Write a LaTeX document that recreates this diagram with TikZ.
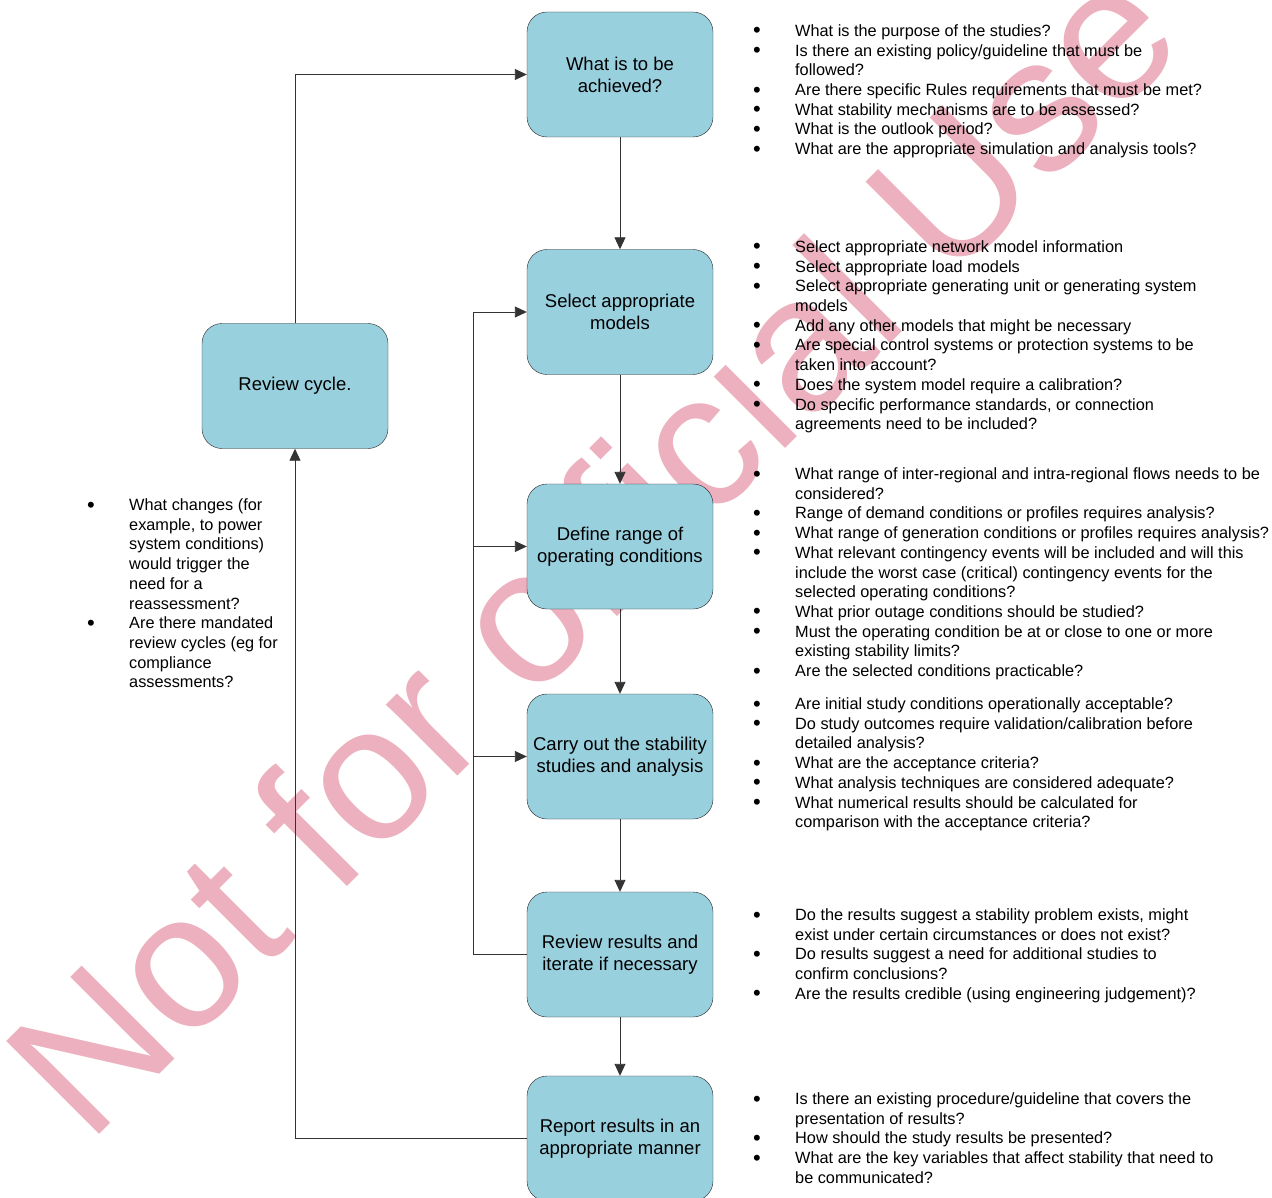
\documentclass[tikz,border=0pt]{standalone}
\usepackage{fontspec}
\setmainfont{Liberation Sans}
\usetikzlibrary{arrows.meta}
\definecolor{stagefill}{RGB}{153,208,222}
\definecolor{stamppink}{RGB}{236,176,190}
\newcommand{\bl}{{\fontsize{22}{19.7}\selectfont\raisebox{-1.5pt}{\textbullet}}}
\begin{document}
\begin{tikzpicture}%
	[x=1pt, y=-1pt,
	stage/.style={draw=black!85, fill=stagefill, thin, rounded corners=20pt, minimum width=186pt, minimum height=125pt, inner sep=0pt, align=center, font=\fontsize{18.5}{22}\selectfont},
	flow/.style={draw=black!80, line width=0.9pt, -{Triangle[length=12pt,width=11pt]}},
	link/.style={draw=black!80, line width=0.9pt},
	notes/.style={anchor=base west, inner sep=0pt, font=\fontsize{16.3}{19.7}\selectfont},
	stamp/.style={text=stamppink, inner sep=0pt, rotate=45, anchor=base west, font=\fontsize{191}{191}\selectfont}]
%
\useasboundingbox (0,0) rectangle (1272,1198);
%%
%% Watermark in the back
%%
\node[stamp] (mark) at (88,1146) {Not for official Use};
%%
%% Drawing the stages
%%
\node[stage] (goal) at (620,74.5) {What is to be\\achieved?};
\node[stage] (models) at (620,312) {Select appropriate\\models};
\node[stage] (define) at (620,546.5) {Define range of\\operating conditions};
\node[stage] (carry) at (620,756.5) {Carry out the stability\\studies and analysis};
\node[stage] (iterate) at (620,954.5) {Review results and\\iterate if necessary};
\node[stage] (report) at (620,1138.5) {Report results in an\\appropriate manner};
\node[stage] (review) at (295,386) {Review cycle.};
%%
%% Drawing the connectors
%%
\draw[flow] (goal) -- (models);
\draw[flow] (models) -- (define);
\draw[flow] (define) -- (carry);
\draw[flow] (carry) -- (iterate);
\draw[flow] (iterate) -- (report);
\draw[flow] (report.west) -| (review.south);
\draw[flow] (review.north) |- (goal.west);
\coordinate (bus) at (473,312);
\draw[flow] (iterate.west) -| (bus) -- (models.west);
\draw[flow] (bus |- define.west) -- (define.west);
\draw[flow] (bus |- carry.west) -- (carry.west);
%%
%% Drawing the questions
%%
\node[notes] (qgoal) at (753,36.5) {\begin{tabular}[t]{@{}p{42pt}@{}l@{}}
\bl & What is the purpose of the studies?\\
\bl & Is there an existing policy/guideline that must be\\
 & followed?\\
\bl & Are there specific Rules requirements that must be met?\\
\bl & What stability mechanisms are to be assessed?\\
\bl & What is the outlook period?\\
\bl & What are the appropriate simulation and analysis tools?
\end{tabular}};
\node[notes] (qmodels) at (753,252.5) {\begin{tabular}[t]{@{}p{42pt}@{}l@{}}
\bl & Select appropriate network model information\\
\bl & Select appropriate load models\\
\bl & Select appropriate generating unit or generating system\\
 & models\\
\bl & Add any other models that might be necessary\\
\bl & Are special control systems or protection systems to be\\
 & taken into account?\\
\bl & Does the system model require a calibration?\\
\bl & Do specific performance standards, or connection\\
 & agreements need to be included?
\end{tabular}};
\node[notes] (qdefine) at (753,479.5) {\begin{tabular}[t]{@{}p{42pt}@{}l@{}}
\bl & What range of inter-regional and intra-regional flows needs to be\\
 & considered?\\
\bl & Range of demand conditions or profiles requires analysis?\\
\bl & What range of generation conditions or profiles requires analysis?\\
\bl & What relevant contingency events will be included and will this\\
 & include the worst case (critical) contingency events for the\\
 & selected operating conditions?\\
\bl & What prior outage conditions should be studied?\\
\bl & Must the operating condition be at or close to one or more\\
 & existing stability limits?\\
\bl & Are the selected conditions practicable?
\end{tabular}};
\node[notes] (qcarry) at (753,709.5) {\begin{tabular}[t]{@{}p{42pt}@{}l@{}}
\bl & Are initial study conditions operationally acceptable?\\
\bl & Do study outcomes require validation/calibration before\\
 & detailed analysis?\\
\bl & What are the acceptance criteria?\\
\bl & What analysis techniques are considered adequate?\\
\bl & What numerical results should be calculated for\\
 & comparison with the acceptance criteria?
\end{tabular}};
\node[notes] (qiterate) at (753,920.5) {\begin{tabular}[t]{@{}p{42pt}@{}l@{}}
\bl & Do the results suggest a stability problem exists, might\\
 & exist under certain circumstances or does not exist?\\
\bl & Do results suggest a need for additional studies to\\
 & confirm conclusions?\\
\bl & Are the results credible (using engineering judgement)?
\end{tabular}};
\node[notes] (qreport) at (753,1104.5) {\begin{tabular}[t]{@{}p{42pt}@{}l@{}}
\bl & Is there an existing procedure/guideline that covers the\\
 & presentation of results?\\
\bl & How should the study results be presented?\\
\bl & What are the key variables that affect stability that need to\\
 & be communicated?
\end{tabular}};
\node[notes] (qreview) at (87,510.5) {\begin{tabular}[t]{@{}p{42pt}@{}l@{}}
\bl & What changes (for\\
 & example, to power\\
 & system conditions)\\
 & would trigger the\\
 & need for a\\
 & reassessment?\\
\bl & Are there mandated\\
 & review cycles (eg for\\
 & compliance\\
 & assessments?
\end{tabular}};

\end{tikzpicture}
\end{document}
